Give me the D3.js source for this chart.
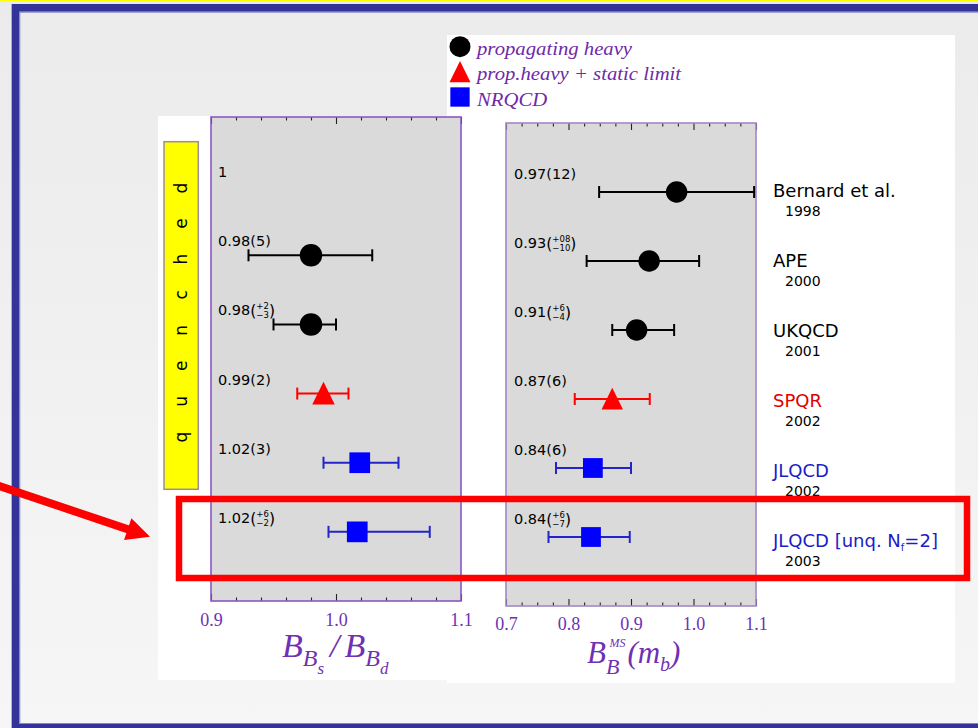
<!DOCTYPE html>
<html><head><meta charset="utf-8">
<script src="https://cdn.jsdelivr.net/npm/d3@7"></script>
<style>html,body{margin:0;padding:0;overflow:hidden;background:#ececec}</style>
</head><body><svg id="c" width="978" height="728"></svg>
<script>
// ---------------- data ----------------
const groups = ["Bernard et al.", "APE", "UKQCD", "SPQR", "JLQCD", "JLQCD [unq. N"];
const groupSub = ["", "", "", "", "", "f"];
const groupTail = ["", "", "", "", "", "=2]"];
const years = ["1998", "2000", "2001", "2002", "2002", "2003"];
const methods = ["prop", "prop", "prop", "static", "nrqcd", "nrqcd"];

const ratioVal = [null, 0.980, 0.980, 0.990, 1.019, 1.017];
const ratioLo  = [null, 0.930, 0.950, 0.969, 0.990, 0.994];
const ratioHi  = [null, 1.029, 1.000, 1.010, 1.050, 1.075];
const ratioText = ["1", "0.98(5)", "0.98", "0.99(2)", "1.02(3)", "1.02"];
const ratioUp   = ["", "", "+2", "", "", "+6"];
const ratioDn   = ["", "", "\u22123", "", "", "\u22122"];

const bVal = [0.973, 0.929, 0.909, 0.870, 0.839, 0.836];
const bLo  = [0.849, 0.829, 0.870, 0.810, 0.780, 0.768];
const bHi  = [1.097, 1.009, 0.969, 0.930, 0.900, 0.898];
const bText = ["0.97(12)", "0.93", "0.91", "0.87(6)", "0.84(6)", "0.84"];
const bUp   = ["", "+08", "+6", "", "", "+6"];
const bDn   = ["", "\u221210", "\u22124", "", "", "\u22127"];

const ratioTicks = [0.9, 1.0, 1.1];
const ratioTickLabels = ["0.9", "1.0", "1.1"];
const ratioMinor = [0.92, 0.94, 0.96, 0.98, 1.02, 1.04, 1.06, 1.08];
const bTicks = [0.7, 0.8, 0.9, 1.0, 1.1];
const bTickLabels = ["0.7", "0.8", "0.9", "1.0", "1.1"];
const bMinor = [0.725, 0.75, 0.775, 0.825, 0.85, 0.875, 0.925, 0.95, 0.975, 1.025, 1.05, 1.075];

const legendMethods = ["prop", "static", "nrqcd"];
const legendLabels = ["propagating heavy", "prop.heavy + static limit", "NRQCD"];
const sideLabel = "quenched";

// ---------------- styles ----------------
const purple = "#6e2aa8";
const axisPurple = "#7030b4";
const markFill = {prop: "#000000", static: "#ff0000", nrqcd: "#0000ff"};
const barColor = {prop: "#000000", static: "#ff0000", nrqcd: "#2424c8"};
const nameColor = {prop: "#000000", static: "#e00000", nrqcd: "#1c1cc8"};
const SANS = "DejaVu Sans";
const SERIF = "Liberation Serif";

const svg = d3.select("#c");
const W = 978, H = 728;

// background
const defs = svg.append("defs");
const grad = defs.append("linearGradient").attr("id", "bg").attr("x1", 0).attr("y1", 0).attr("x2", 0).attr("y2", 1);
grad.append("stop").attr("offset", "0%").attr("stop-color", "#ebebeb");
grad.append("stop").attr("offset", "100%").attr("stop-color", "#f6f6f6");
svg.append("rect").attr("width", W).attr("height", H).attr("fill", "url(#bg)");
svg.append("rect").attr("width", W).attr("height", 1.5).attr("fill", "#ffff00");
svg.append("rect").attr("x", 15.5).attr("y", 7.85).attr("width", 1000).attr("height", 720)
  .attr("fill", "none").attr("stroke", "#333399").attr("stroke-width", 7.7);
svg.append("rect").attr("x", 19.8).attr("y", 12.2).attr("width", 1000).attr("height", 711.3)
  .attr("fill", "none").attr("stroke", "#8383c6").attr("stroke-width", 1);

// white panels
svg.append("rect").attr("x", 158).attr("y", 116).attr("width", 292).attr("height", 564).attr("fill", "#fff");
svg.append("rect").attr("x", 447).attr("y", 35).attr("width", 508).attr("height", 648).attr("fill", "#fff");

// scales
const idx = d3.range(groups.length);
const xL = d3.scaleLinear().domain([0.9, 1.1]).range([211, 461]);
const yL = d3.scalePoint().domain(idx).range([117, 601]).padding(1);
const xR = d3.scaleLinear().domain([0.7, 1.1]).range([506, 756]);
const yR = d3.scalePoint().domain(idx).range([123, 606]).padding(1);
const yN = d3.scalePoint().domain(idx).range([126.7, 616.7]).padding(1);

function drawMarker(g, m, cx, cy, s) {
  if (m === "prop") {
    g.append("circle").attr("cx", cx).attr("cy", cy).attr("r", s * 0.5).attr("fill", markFill[m]);
  } else if (m === "static") {
    const p = d3.path();
    p.moveTo(cx, cy - s * 0.52); p.lineTo(cx + s * 0.5, cy + s * 0.49); p.lineTo(cx - s * 0.5, cy + s * 0.49); p.closePath();
    g.append("path").attr("d", p.toString()).attr("fill", markFill[m]);
  } else {
    const q = s * 0.92;
    g.append("rect").attr("x", cx - q / 2).attr("y", cy - q / 2).attr("width", q).attr("height", q).attr("fill", markFill[m]);
  }
}

function valueLabel(g, x, y, main, up, dn) {
  const t = g.append("text").attr("x", x).attr("y", y).attr("font-family", SANS).attr("font-size", 14.5)
    .attr("fill", "#000").text(main);
  if (!up) return;
  const w = t.node().getComputedTextLength();
  const op = g.append("text").attr("x", x + w).attr("y", y + 1).attr("font-family", SANS).attr("font-size", 15.5)
    .attr("fill", "#000").text("(");
  const w2 = w + op.node().getComputedTextLength();
  const s1 = g.append("text").attr("x", x + w2).attr("y", y - 6).attr("font-family", SANS).attr("font-size", 8.5).attr("fill", "#000").text(up);
  const s2 = g.append("text").attr("x", x + w2).attr("y", y + 3).attr("font-family", SANS).attr("font-size", 8.5).attr("fill", "#000").text(dn);
  const ww = Math.max(s1.node().getComputedTextLength(), s2.node().getComputedTextLength());
  g.append("text").attr("x", x + w2 + ww).attr("y", y + 1).attr("font-family", SANS).attr("font-size", 15.5)
    .attr("fill", "#000").text(")");
}

function drawPanel(cfg) {
  const {x, y, frame, vals, lo, hi, text, up, dn, majors, majorLabels, minors, labelDx, labelDy, size, pad} = cfg;
  const g = svg.append("g");
  const [x0, x1] = x.range();
  const [y0, y1] = y.range();
  g.append("rect").attr("x", x0).attr("y", y0).attr("width", x1 - x0).attr("height", y1 - y0).attr("fill", "#dadada");
  const bot = g.append("g").attr("transform", `translate(0,${y1})`);
  bot.call(d3.axisBottom(x).tickValues(minors).tickSize(-3.5).tickFormat(""));
  const botMaj = g.append("g").attr("transform", `translate(0,${y1})`);
  botMaj.call(d3.axisBottom(x).tickValues(majors).tickSizeInner(-7).tickSizeOuter(0).tickPadding(pad)
    .tickFormat((d, i) => majorLabels[i]));
  const top = g.append("g").attr("transform", `translate(0,${y0})`);
  top.call(d3.axisTop(x).tickValues(minors).tickSize(-3.5).tickFormat(""));
  const topMaj = g.append("g").attr("transform", `translate(0,${y0})`);
  topMaj.call(d3.axisTop(x).tickValues(majors).tickSize(-7).tickFormat(""));
  g.selectAll(".domain").remove();
  g.selectAll(".tick line").attr("stroke", "#222").attr("stroke-width", 1.1);
  botMaj.selectAll("text").attr("font-family", SERIF).attr("font-size", 18).attr("fill", axisPurple);
  g.append("rect").attr("x", x0).attr("y", y0).attr("width", x1 - x0).attr("height", y1 - y0)
    .attr("fill", "none").attr("stroke", frame).attr("stroke-width", 1.6);
  idx.forEach(i => {
    const cy = y(i);
    valueLabel(g, x0 + labelDx, cy + labelDy, text[i], up[i], dn[i]);
    if (vals[i] === null) return;
    const m = methods[i];
    const c = barColor[m];
    g.append("line").attr("x1", x(lo[i])).attr("x2", x(hi[i])).attr("y1", cy).attr("y2", cy)
      .attr("stroke", c).attr("stroke-width", 2);
    [lo[i], hi[i]].forEach(v => {
      g.append("line").attr("x1", x(v)).attr("x2", x(v)).attr("y1", cy - 6).attr("y2", cy + 6)
        .attr("stroke", c).attr("stroke-width", 2);
    });
    drawMarker(g, m, x(vals[i]), cy, size);
  });
}

drawPanel({x: xL, y: yL, frame: "#8d55c4", vals: ratioVal, lo: ratioLo, hi: ratioHi, text: ratioText, up: ratioUp, dn: ratioDn,
  majors: ratioTicks, majorLabels: ratioTickLabels, minors: ratioMinor, labelDx: 7, labelDy: -9, size: 22.5, pad: 12});
drawPanel({x: xR, y: yR, frame: "#a386c6", vals: bVal, lo: bLo, hi: bHi, text: bText, up: bUp, dn: bDn,
  majors: bTicks, majorLabels: bTickLabels, minors: bMinor, labelDx: 8, labelDy: -13, size: 21.5, pad: 11});

// axis titles
const tl = svg.append("text").attr("x", xL(1.0) - 54).attr("y", yL.range()[1] + 56)
  .attr("font-family", SERIF).attr("font-style", "italic").attr("font-size", 34).attr("fill", axisPurple);
tl.append("tspan").text("B");
tl.append("tspan").attr("font-size", 24).attr("dy", 9).text("B");
tl.append("tspan").attr("font-size", 17).attr("dy", 8).text("s");
tl.append("tspan").attr("font-size", 34).attr("dy", -17).attr("dx", 6).text("/");
tl.append("tspan").attr("dx", 5).text("B");
tl.append("tspan").attr("font-size", 24).attr("dy", 9).text("B");
tl.append("tspan").attr("font-size", 17).attr("dy", 8).text("d");

const tr = svg.append("text").attr("x", xR(0.9) - 44).attr("y", yR.range()[1] + 57)
  .attr("font-family", SERIF).attr("font-style", "italic").attr("font-size", 31).attr("fill", axisPurple);
tr.append("tspan").text("B");
tr.append("tspan").attr("font-size", 22).attr("dy", 11).text("B");
tr.append("tspan").attr("font-size", 12).attr("dx", -10).attr("dy", -27).text("MS");
tr.append("tspan").attr("font-size", 31).attr("dx", 2).attr("dy", 16).text("(");
tr.append("tspan").text("m");
tr.append("tspan").attr("font-size", 20).attr("dy", 8).text("b");
tr.append("tspan").attr("font-size", 31).attr("dy", -8).text(")");

// names and years
idx.forEach(i => {
  const t = svg.append("text").attr("x", 773).attr("y", yN(i)).attr("font-family", SANS).attr("font-size", 18)
    .attr("fill", nameColor[methods[i]]);
  t.append("tspan").text(groups[i]);
  if (groupSub[i]) {
    t.append("tspan").attr("font-size", 10).attr("dy", 4).text(groupSub[i]);
    t.append("tspan").attr("font-size", 18).attr("dy", -4).text(groupTail[i]);
  }
  svg.append("text").attr("x", 785).attr("y", yN(i) + 19.5).attr("font-family", SANS).attr("font-size", 14)
    .attr("fill", "#000").text(years[i]);
});

// legend
const legY = d3.scalePoint().domain(d3.range(3)).range([46.7, 97]);
legendMethods.forEach((m, i) => {
  drawMarker(svg, m, 460, legY(i), 21);
  svg.append("text").attr("transform", `translate(477,${legY(i) + 8 + (i === 2 ? 1 : 0)}) scale(1.12,1)`)
    .attr("font-family", SERIF).attr("font-style", "italic").attr("font-size", 18.5).attr("fill", purple)
    .text(legendLabels[i]);
});

// quenched box
svg.append("rect").attr("x", 164).attr("y", 141.7).attr("width", 34.3).attr("height", 347.6)
  .attr("fill", "#ffff00").attr("stroke", "#9f8a9a").attr("stroke-width", 1.5);
const qY = d3.scalePoint().domain(d3.range(sideLabel.length)).range([437, 188]);
sideLabel.split("").forEach((ch, i) => {
  svg.append("text").attr("transform", `translate(187,${qY(i)}) rotate(-90)`).attr("text-anchor", "middle")
    .attr("font-family", SANS).attr("font-size", 17).attr("fill", "#000").text(ch);
});

// highlight box and arrow
svg.append("rect").attr("x", 179).attr("y", 499).attr("width", 788).attr("height", 79)
  .attr("fill", "none").attr("stroke", "#ff0000").attr("stroke-width", 6.5);
const tip = [150, 536.7], ang = Math.atan2(7.5, 22.3), headL = 23.5, headW = 23;
const ux = Math.cos(ang), uy = Math.sin(ang);
const base = [tip[0] - headL * ux, tip[1] - headL * uy];
svg.append("path").attr("d", d3.line()([[tip[0] - 170 * ux, tip[1] - 170 * uy], [base[0] + 2 * ux, base[1] + 2 * uy]]))
  .attr("stroke", "#ff0000").attr("stroke-width", 8).attr("fill", "none");
svg.append("path").attr("d", d3.line()([tip, [base[0] - uy * headW / 2, base[1] + ux * headW / 2], [base[0] + uy * headW / 2, base[1] - ux * headW / 2]]) + "Z")
  .attr("fill", "#ff0000");
</script>
</body></html>
